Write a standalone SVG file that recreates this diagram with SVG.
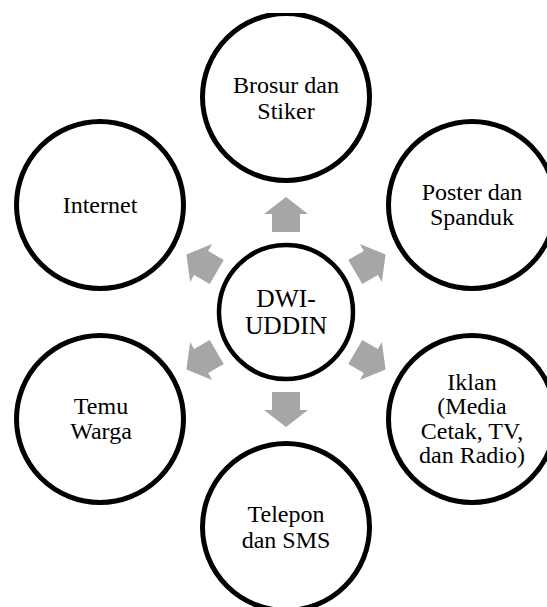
<svg xmlns="http://www.w3.org/2000/svg" width="547" height="607" viewBox="0 0 547 607">
<style>
.node{fill:#fff;stroke:#000;stroke-width:5}
.hub{fill:#fff;stroke:#000;stroke-width:4.5}
.arr{fill:#a6a6a6}
text{font-family:"Liberation Serif","Times New Roman",serif;font-size:24px;fill:#000;text-anchor:middle}
.big{font-size:25.5px}
</style>
<defs>
<clipPath id="page"><rect x="0" y="13" width="547" height="594"/></clipPath>
<path id="a" d="M286,197 L308,214 L300,214 L300,232 L272,232 L272,214 L264,214 Z"/>
</defs>
<rect width="547" height="607" fill="#fff"/>
<g clip-path="url(#page)">
<g id="connectors" class="arr">
<use href="#a"/>
<use href="#a" transform="rotate(60 286 312)"/>
<use href="#a" transform="rotate(120 286 312)"/>
<use href="#a" transform="rotate(180 286 312)"/>
<use href="#a" transform="rotate(240 286 312)"/>
<use href="#a" transform="rotate(300 286 312)"/>
</g>
<g id="hub">
<circle class="hub" cx="286" cy="312" r="67"/>
<text class="big" x="286" y="306.5">DWI-</text>
<text class="big" x="286" y="334">UDDIN</text>
</g>
<g id="brosur">
<circle class="node" cx="286" cy="97" r="83.5"/>
<text x="286" y="92.5">Brosur dan</text>
<text x="286" y="118.5">Stiker</text>
</g>
<g id="poster">
<circle class="node" cx="472" cy="205" r="83.5"/>
<text x="472" y="200">Poster dan</text>
<text x="472" y="225">Spanduk</text>
</g>
<g id="iklan">
<circle class="node" cx="472" cy="419" r="83.5"/>
<text x="472" y="390">Iklan</text>
<text x="472" y="414">(Media</text>
<text x="472" y="438.5">Cetak, TV,</text>
<text x="472" y="463">dan Radio)</text>
</g>
<g id="telepon">
<circle class="node" cx="286" cy="527" r="83.5"/>
<text x="286" y="521.5">Telepon</text>
<text x="286" y="547.5">dan SMS</text>
</g>
<g id="temu">
<circle class="node" cx="100" cy="419" r="83.5"/>
<text x="101" y="413.5">Temu</text>
<text x="101" y="439">Warga</text>
</g>
<g id="internet">
<circle class="node" cx="100" cy="205" r="83.5"/>
<text x="100" y="212.5">Internet</text>
</g>
</g>
</svg>
